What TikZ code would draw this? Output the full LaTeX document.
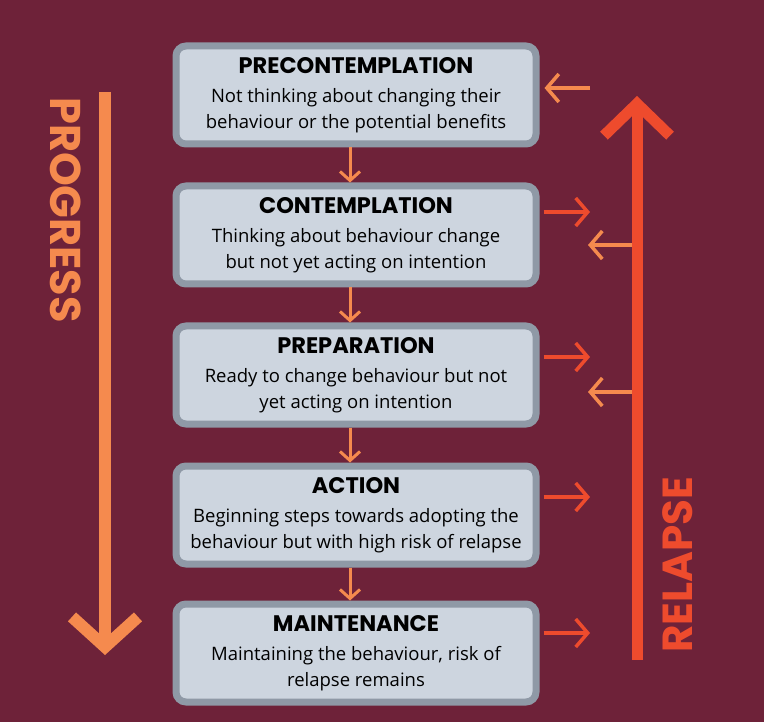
\documentclass[tikz,border=0pt]{standalone}
\usepackage{fontspec}
\setmainfont{Open Sans}
\newfontfamily\headfont{Poppins}
\usetikzlibrary{arrows.meta}
\definecolor{bgred}{HTML}{6E2239}
\definecolor{boxfill}{HTML}{CDD5DF}
\definecolor{boxline}{HTML}{8F99A6}
\definecolor{progorange}{HTML}{F58A4E}
\definecolor{relred}{HTML}{EE4B2D}
\tikzset{
  stagebox/.style={draw=boxline, line width=7pt, fill=boxfill, rounded corners=10pt,
    minimum width=360pt, minimum height=98pt, align=center, inner sep=0pt,
    font=\fontsize{18.5}{26}\selectfont},
  downarr/.style={draw=progorange, line width=3pt, -{Straight Barb[length=9pt,width=20pt]}},
  outarr/.style={draw=relred, line width=3.5pt, -{Straight Barb[length=12pt,width=28pt]}},
  backarr/.style={draw=progorange, line width=3.5pt, -{Straight Barb[length=12pt,width=28pt]}},
}
\newcommand{\stage}[2]{{\headfont\bfseries\fontsize{22.5}{26}\selectfont #1}\\[3pt] #2}
\begin{document}
\begin{tikzpicture}[x=1pt,y=-1pt]
  \fill[bgred] (0,0) rectangle (764,722);
  \useasboundingbox (0,0) rectangle (764,722);
  % stages
  \node[stagebox] (pre) at (356,95) {\stage{PRECONTEMPLATION}{Not thinking about changing their\\behaviour or the potential benefits}};
  \node[stagebox] (con) at (356,235) {\stage{CONTEMPLATION}{Thinking about behaviour change\\but not yet acting on intention}};
  \node[stagebox] (prep) at (356,375) {\stage{PREPARATION}{Ready to change behaviour but not\\yet acting on intention}};
  \node[stagebox] (act) at (356,515) {\stage{ACTION}{Beginning steps towards adopting the\\behaviour but with high risk of relapse}};
  \node[stagebox] (main) at (356,653) {\stage{MAINTENANCE}{Maintaining the behaviour, risk of\\relapse remains}};
  \foreach \a/\b in {pre/con,con/prep,prep/act,act/main}
    \draw[downarr] ([xshift=-6pt]\a.south) -- ([xshift=-6pt]\b.north);
  % progress
  \coordinate (ptop) at (105,92);
  \coordinate (pbot) at (105,655);
  \draw[progorange, line width=12pt, -{Straight Barb[length=30pt,width=66pt,line width=12pt]}] (ptop) -- (pbot);
  \node[progorange, rotate=-90, font=\headfont\bfseries\fontsize{43}{43}\selectfont] (prog) at (66,210) {PROGRESS};
  % relapse
  \coordinate (rbot) at (637,660);
  \coordinate (rtop) at (637,96);
  \draw[relred, line width=11pt, -{Straight Barb[length=32pt,width=66pt,line width=11pt]}] (rbot) -- (rtop);
  \node[relred, rotate=90, font=\headfont\bfseries\fontsize{42}{42}\selectfont] (rel) at (678,565) {RELAPSE};
  % side arrows
  \coordinate (b1) at (590,88);
  \draw[backarr] (b1) -- ([xshift=5pt]pre.east |- b1);
  \foreach \n/\y in {con/212,prep/357,act/497,main/633}
    \draw[outarr] ([xshift=4pt]\n.east |- 0,\y) -- (590,\y);
  \foreach \y in {245,392}
    \draw[backarr] (632,\y) -- (588,\y);
\end{tikzpicture}
\end{document}
